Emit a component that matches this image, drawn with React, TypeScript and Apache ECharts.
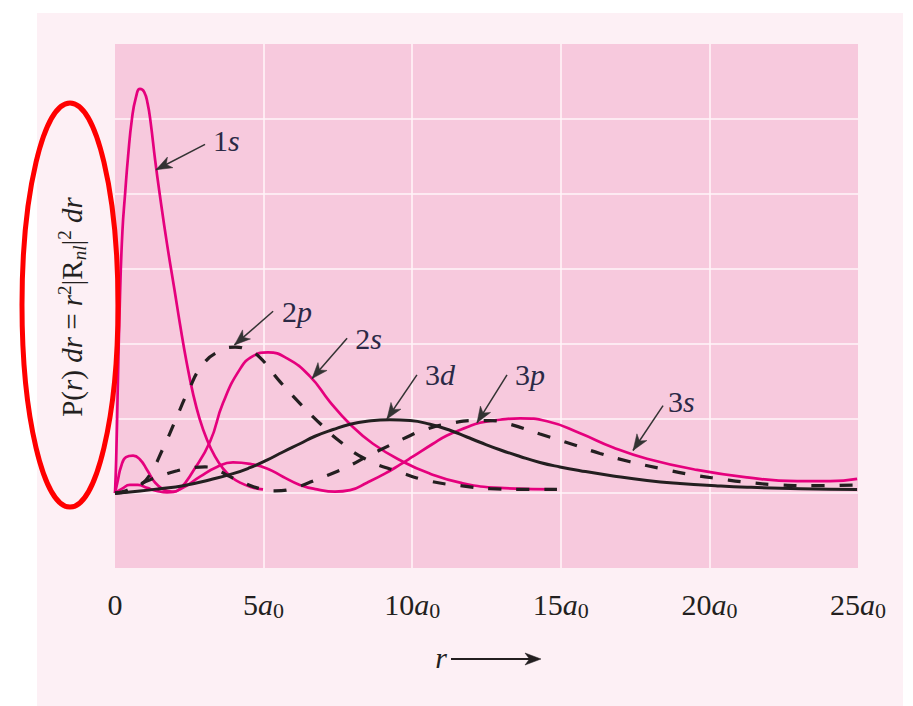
import React, { useEffect, useRef } from 'react';
import * as echarts from 'echarts';

// ---------- data (r in units of a0, P in arbitrary units) ----------
const rTicks = [0, 5, 10, 15, 20, 25];
const rTickLabels = ['0', '5', '10', '15', '20', '25'];

const curve1s: [number, number][] = [
  [0, 0], [0.04, 0.45], [0.09, 1.35], [0.17, 2.66], [0.25, 3.5], [0.34, 4.0], [0.44, 4.5],
  [0.57, 5.0], [0.7, 5.28], [0.84, 5.4], [0.98, 5.36], [1.1, 5.2], [1.2, 4.95], [1.35, 4.45],
  [1.51, 3.98], [1.75, 3.33], [2.0, 2.72], [2.19, 2.25], [2.4, 1.77], [2.62, 1.34], [2.85, 0.99],
  [3.1, 0.71], [3.35, 0.5], [3.63, 0.33], [3.9, 0.22], [4.21, 0.14], [4.6, 0.08], [4.98, 0.05],
];

const curve2s: [number, number][] = [
  [0, 0], [0.1, 0.18], [0.2, 0.35], [0.37, 0.48], [0.61, 0.5], [0.84, 0.45], [1.08, 0.31],
  [1.35, 0.14], [1.62, 0.05], [1.92, 0.02], [2.19, 0.06], [2.62, 0.29], [3.2, 0.69], [3.63, 1.2],
  [4.21, 1.66], [4.64, 1.83], [5.15, 1.88], [5.79, 1.8], [6.56, 1.56], [7.23, 1.22], [7.91, 0.92],
  [8.68, 0.66], [9.69, 0.42], [10.6, 0.26], [11.61, 0.14], [12.95, 0.07], [14.87, 0.05],
];

const curve3s: [number, number][] = [
  [0, 0], [0.24, 0.06], [0.5, 0.11], [0.77, 0.11], [1.08, 0.07], [1.41, 0.03], [1.75, 0.01],
  [2.19, 0.05], [2.86, 0.22], [3.43, 0.35], [3.97, 0.41], [4.54, 0.39], [5.11, 0.33], [5.65, 0.22],
  [6.22, 0.11], [6.8, 0.05], [7.4, 0.02], [7.91, 0.04], [8.48, 0.14], [9.08, 0.26], [9.59, 0.38],
  [10.03, 0.49], [10.7, 0.66], [11.17, 0.77], [11.84, 0.88], [12.28, 0.94], [12.95, 0.98],
  [13.63, 1.0], [14.54, 0.96], [15.65, 0.8], [16.76, 0.61], [17.9, 0.46], [19.58, 0.31],
  [21.27, 0.21], [22.95, 0.16], [24.06, 0.16], [24.97, 0.19],
];

const curve2p: [number, number][] = [
  [0, 0], [0.5, 0.03], [0.84, 0.1], [1.18, 0.25], [1.62, 0.6], [2.02, 0.96], [2.46, 1.36],
  [2.96, 1.72], [3.53, 1.9], [4.04, 1.95], [4.48, 1.91], [4.88, 1.81], [5.55, 1.49], [6.22, 1.2],
  [6.9, 0.93], [7.57, 0.69], [8.41, 0.46], [9.59, 0.28], [10.6, 0.16], [11.61, 0.1], [12.62, 0.06],
  [13.63, 0.05], [14.87, 0.05],
];

const curve3p: [number, number][] = [
  [0, 0], [0.34, 0.03], [0.74, 0.1], [1.18, 0.18], [1.62, 0.24], [2.09, 0.3], [2.59, 0.34],
  [3.03, 0.35], [3.43, 0.31], [3.87, 0.22], [4.37, 0.13], [4.88, 0.06], [5.38, 0.03], [5.89, 0.05],
  [6.46, 0.13], [6.9, 0.2], [7.47, 0.29], [7.91, 0.37], [8.48, 0.49], [9.25, 0.64], [9.83, 0.75],
  [10.36, 0.84], [11.27, 0.93], [12.18, 0.97], [12.62, 0.97], [13.29, 0.92], [14.3, 0.79],
  [15.41, 0.65], [16.32, 0.53], [17.33, 0.42], [18.34, 0.33], [19.35, 0.25], [20.36, 0.19],
  [21.37, 0.14], [22.38, 0.11], [23.49, 0.1], [24.97, 0.11],
];

const curve3d: [number, number][] = [
  [0, 0], [0.84, 0.03], [1.51, 0.06], [2.29, 0.1], [3.2, 0.18], [3.97, 0.26], [4.54, 0.34],
  [5.11, 0.44], [5.65, 0.55], [6.22, 0.66], [6.73, 0.76], [7.34, 0.85], [7.91, 0.92], [8.48, 0.96],
  [9.25, 0.98], [9.93, 0.97], [10.6, 0.92], [11.27, 0.84], [11.84, 0.75], [12.28, 0.68],
  [12.95, 0.58], [13.63, 0.49], [14.3, 0.41], [14.97, 0.35], [15.65, 0.3], [16.76, 0.23],
  [17.9, 0.17], [19.01, 0.13], [20.2, 0.1], [21.27, 0.08], [23.05, 0.06], [24.97, 0.05],
];

const curveNames = ['1s', '2s', '3s', '3d', '2p', '3p'];

// ---------- layout (annotation placement, in data coordinates) ----------
const annotationLayout: Record<string, { text: number[]; tail: number[]; tip: number[] }> = {
  '1s': { text: [3.3, 4.71], tail: [3.03, 4.66], tip: [1.38, 4.32] },
  '2p': { text: [5.62, 2.43], tail: [5.32, 2.43], tip: [4.02, 1.98] },
  '2s': { text: [8.08, 2.07], tail: [7.81, 2.07], tip: [6.63, 1.53] },
  '3d': { text: [10.43, 1.59], tail: [10.16, 1.58], tip: [9.15, 0.99] },
  '3p': { text: [13.46, 1.59], tail: [13.19, 1.58], tip: [12.18, 0.94] },
  '3s': { text: [18.61, 1.22], tail: [18.44, 1.17], tip: [17.43, 0.57] },
};

const PINK = '#e5007d';
const INK = '#231f20';
const LABEL = '#2b2946';
const SERIF = '"Liberation Serif", "DejaVu Serif", serif';

function arrowHead(tip: number[], tail: number[], len: number, half: number, color: string) {
  const dx = tip[0] - tail[0];
  const dy = tip[1] - tail[1];
  const d = Math.hypot(dx, dy) || 1;
  const ux = dx / d, uy = dy / d;
  const nx = -uy, ny = ux;
  const bx = tip[0] - ux * len, by = tip[1] - uy * len;
  const mx = tip[0] - ux * len * 0.72, my = tip[1] - uy * len * 0.72;
  return {
    type: 'polygon',
    z: 20,
    shape: { points: [[tip[0], tip[1]], [bx + nx * half, by + ny * half], [mx, my], [bx - nx * half, by - ny * half]] },
    style: { fill: color, stroke: color, lineWidth: 0.5 },
  };
}

export default function App() {
  const ref = useRef<HTMLDivElement>(null);

  useEffect(() => {
    if (!ref.current) return;
    const chart = echarts.init(ref.current, undefined, { renderer: 'svg' });

    const pinkStyle = { color: PINK, width: 2.7 };
    const dashStyle = { color: INK, width: 3.2, type: [13, 15] as any };

    const seriesMap: Record<string, any> = {
      '1s': { data: curve1s, lineStyle: pinkStyle },
      '2s': { data: curve2s, lineStyle: pinkStyle },
      '3s': { data: curve3s, lineStyle: pinkStyle },
      '3d': { data: curve3d, lineStyle: { color: INK, width: 3 } },
      '2p': { data: curve2p, lineStyle: dashStyle },
      '3p': { data: curve3p, lineStyle: dashStyle },
    };

    chart.setOption({
      animation: false,
      backgroundColor: '#ffffff',
      grid: {
        left: 115, right: 55, top: 44, bottom: 138,
        show: true, backgroundColor: '#f7c9dd', borderWidth: 0,
      },
      xAxis: {
        type: 'value', min: 0, max: 25, interval: 5,
        axisLine: { show: false }, axisTick: { show: false },
        splitLine: { show: true, showMinLine: false, showMaxLine: false, lineStyle: { color: '#fff4f8', width: 1.6 } },
        axisLabel: {
          margin: 19,
          formatter: (v: number) => {
            const i = rTicks.indexOf(v);
            const t = i >= 0 ? rTickLabels[i] : String(v);
            return v === 0 ? `{n|${t}}` : `{n|${t}}{a|a}{s|0}`;
          },
          rich: {
            n: { fontFamily: SERIF, fontSize: 30, color: INK, lineHeight: 34 },
            a: { fontFamily: SERIF, fontSize: 30, fontStyle: 'italic', color: INK, lineHeight: 34 },
            s: { fontFamily: SERIF, fontSize: 22, color: INK, lineHeight: 22, verticalAlign: 'bottom' },
          },
        },
      },
      yAxis: {
        type: 'value', min: -1, max: 6, interval: 1,
        axisLine: { show: false }, axisTick: { show: false }, axisLabel: { show: false },
        splitLine: { show: true, showMinLine: false, showMaxLine: false, lineStyle: { color: '#fff4f8', width: 1.6 } },
      },
      series: curveNames.map((name) => ({
        name,
        type: 'line',
        showSymbol: false,
        symbol: 'none',
        smooth: 0.5,
        silent: true,
        data: seriesMap[name].data,
        lineStyle: seriesMap[name].lineStyle,
        z: name.endsWith('s') ? 2 : 3,
      })),
    });

    const px = (p: number[]) => chart.convertToPixel({ gridIndex: 0 }, p) as number[];

    const elements: any[] = [
      { type: 'rect', z: -10, shape: { x: 37, y: 13, width: 866, height: 693 }, style: { fill: '#fdf0f5' }, silent: true },
    ];

    ['1s', '2p', '2s', '3d', '3p', '3s'].forEach((name) => {
      const a = annotationLayout[name];
      const t = px(a.text), tl = px(a.tail), tp = px(a.tip);
      elements.push({
        type: 'text', z: 20, x: t[0], y: t[1],
        style: {
          text: `${name[0]}{i|${name.slice(1)}}`,
          font: `30px ${SERIF}`,
          fill: LABEL,
          textAlign: 'left', textVerticalAlign: 'middle', align: 'left', verticalAlign: 'middle',
          rich: { i: { fontFamily: SERIF, fontSize: 30, fontStyle: 'italic', fill: LABEL } },
        },
      });
      elements.push({
        type: 'line', z: 20,
        shape: { x1: tl[0], y1: tl[1], x2: tp[0], y2: tp[1] },
        style: { stroke: '#333333', lineWidth: 1.5 },
      });
      elements.push(arrowHead(tp, tl, 16, 6, '#333333'));
    });

    // y axis title (rotated)
    elements.push({
      type: 'text', z: 20, x: 72, y: 307, rotation: Math.PI / 2,
      style: {
        text: 'P({i|r}) {i|dr} = {i|r}{sup|2}|R{sub|nl}|{sup|2} {i|dr}',
        font: `29px ${SERIF}`,
        fill: INK,
        lineHeight: 34,
        textAlign: 'center', textVerticalAlign: 'middle', align: 'center', verticalAlign: 'middle',
        rich: {
          i: { fontFamily: SERIF, fontSize: 29, fontStyle: 'italic', lineHeight: 34, fill: INK },
          sup: { fontFamily: SERIF, fontSize: 19, lineHeight: 19, verticalAlign: 'top', fill: INK },
          sub: { fontFamily: SERIF, fontSize: 19, fontStyle: 'italic', lineHeight: 19, verticalAlign: 'bottom', fill: INK },
        },
      },
    });

    // x axis title "r ——>"
    elements.push({
      type: 'text', z: 20, x: 447, y: 657,
      style: { text: 'r', font: `italic 30px ${SERIF}`, fill: INK, textAlign: 'right', textVerticalAlign: 'middle', align: 'right', verticalAlign: 'middle' },
    });
    elements.push({
      type: 'line', z: 20, shape: { x1: 451, y1: 659, x2: 530, y2: 659 },
      style: { stroke: INK, lineWidth: 2 },
    });
    elements.push(arrowHead([541, 659], [451, 659], 16, 6, INK));

    // red ellipse around y title
    elements.push({
      type: 'ellipse', z: 30,
      shape: { cx: 70, cy: 305, rx: 48, ry: 202 },
      style: { fill: 'none', stroke: '#ff0000', lineWidth: 5 },
    });

    chart.setOption({ graphic: { elements } });

    return () => chart.dispose();
  }, []);

  return <div ref={ref} style={{ position: 'absolute', left: 0, top: 0, width: 913, height: 706 }} />;
}
